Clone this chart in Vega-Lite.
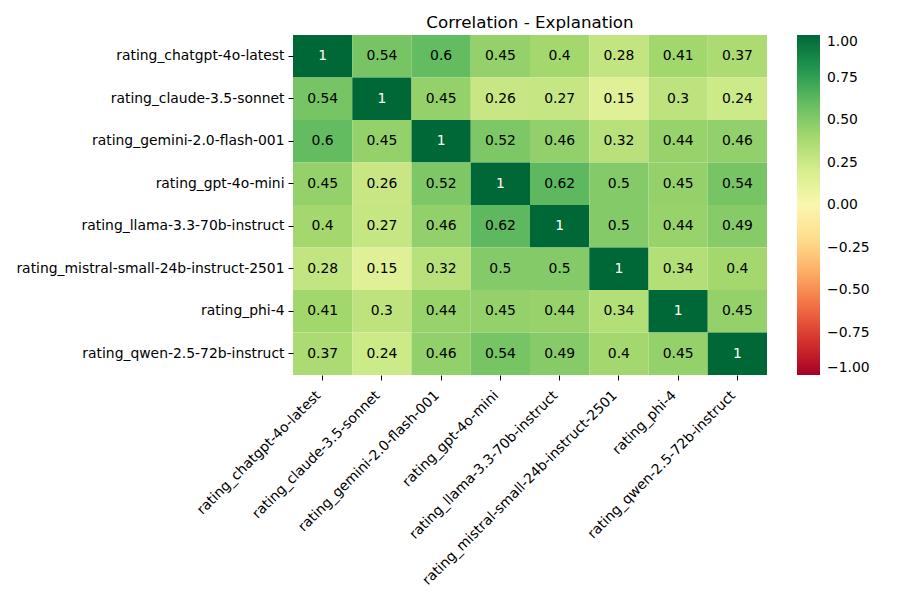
{
  "$schema": "https://vega.github.io/schema/vega-lite/v6.json",
  "width": 474,
  "height": 340,
  "autosize": {"type": "none"},
  "padding": {"left": 293, "top": 35, "right": 133, "bottom": 225},
  "config": {
    "font": "DejaVu Sans",
    "view": {"stroke": null},
    "axis": {"labelFont": "DejaVu Sans", "labelFontSize": 13.9, "labelColor": "black", "tickColor": "black", "tickSize": 5, "domain": false, "title": null, "labelPadding": 4, "labelLimit": 0},
    "legend": {"labelFont": "DejaVu Sans", "labelFontSize": 13.9, "labelColor": "black", "labelLimit": 0}
  },
  "title": {"text": "Correlation - Explanation", "fontSize": 16.7, "fontWeight": "normal", "font": "DejaVu Sans", "color": "black", "anchor": "middle", "offset": 3},
  "data": {"values": [
    {"x":"rating_chatgpt-4o-latest","y":"rating_chatgpt-4o-latest","v":1},
    {"x":"rating_claude-3.5-sonnet","y":"rating_chatgpt-4o-latest","v":0.54},
    {"x":"rating_gemini-2.0-flash-001","y":"rating_chatgpt-4o-latest","v":0.6},
    {"x":"rating_gpt-4o-mini","y":"rating_chatgpt-4o-latest","v":0.45},
    {"x":"rating_llama-3.3-70b-instruct","y":"rating_chatgpt-4o-latest","v":0.4},
    {"x":"rating_mistral-small-24b-instruct-2501","y":"rating_chatgpt-4o-latest","v":0.28},
    {"x":"rating_phi-4","y":"rating_chatgpt-4o-latest","v":0.41},
    {"x":"rating_qwen-2.5-72b-instruct","y":"rating_chatgpt-4o-latest","v":0.37},

    {"x":"rating_chatgpt-4o-latest","y":"rating_claude-3.5-sonnet","v":0.54},
    {"x":"rating_claude-3.5-sonnet","y":"rating_claude-3.5-sonnet","v":1},
    {"x":"rating_gemini-2.0-flash-001","y":"rating_claude-3.5-sonnet","v":0.45},
    {"x":"rating_gpt-4o-mini","y":"rating_claude-3.5-sonnet","v":0.26},
    {"x":"rating_llama-3.3-70b-instruct","y":"rating_claude-3.5-sonnet","v":0.27},
    {"x":"rating_mistral-small-24b-instruct-2501","y":"rating_claude-3.5-sonnet","v":0.15},
    {"x":"rating_phi-4","y":"rating_claude-3.5-sonnet","v":0.3},
    {"x":"rating_qwen-2.5-72b-instruct","y":"rating_claude-3.5-sonnet","v":0.24},

    {"x":"rating_chatgpt-4o-latest","y":"rating_gemini-2.0-flash-001","v":0.6},
    {"x":"rating_claude-3.5-sonnet","y":"rating_gemini-2.0-flash-001","v":0.45},
    {"x":"rating_gemini-2.0-flash-001","y":"rating_gemini-2.0-flash-001","v":1},
    {"x":"rating_gpt-4o-mini","y":"rating_gemini-2.0-flash-001","v":0.52},
    {"x":"rating_llama-3.3-70b-instruct","y":"rating_gemini-2.0-flash-001","v":0.46},
    {"x":"rating_mistral-small-24b-instruct-2501","y":"rating_gemini-2.0-flash-001","v":0.32},
    {"x":"rating_phi-4","y":"rating_gemini-2.0-flash-001","v":0.44},
    {"x":"rating_qwen-2.5-72b-instruct","y":"rating_gemini-2.0-flash-001","v":0.46},

    {"x":"rating_chatgpt-4o-latest","y":"rating_gpt-4o-mini","v":0.45},
    {"x":"rating_claude-3.5-sonnet","y":"rating_gpt-4o-mini","v":0.26},
    {"x":"rating_gemini-2.0-flash-001","y":"rating_gpt-4o-mini","v":0.52},
    {"x":"rating_gpt-4o-mini","y":"rating_gpt-4o-mini","v":1},
    {"x":"rating_llama-3.3-70b-instruct","y":"rating_gpt-4o-mini","v":0.62},
    {"x":"rating_mistral-small-24b-instruct-2501","y":"rating_gpt-4o-mini","v":0.5},
    {"x":"rating_phi-4","y":"rating_gpt-4o-mini","v":0.45},
    {"x":"rating_qwen-2.5-72b-instruct","y":"rating_gpt-4o-mini","v":0.54},

    {"x":"rating_chatgpt-4o-latest","y":"rating_llama-3.3-70b-instruct","v":0.4},
    {"x":"rating_claude-3.5-sonnet","y":"rating_llama-3.3-70b-instruct","v":0.27},
    {"x":"rating_gemini-2.0-flash-001","y":"rating_llama-3.3-70b-instruct","v":0.46},
    {"x":"rating_gpt-4o-mini","y":"rating_llama-3.3-70b-instruct","v":0.62},
    {"x":"rating_llama-3.3-70b-instruct","y":"rating_llama-3.3-70b-instruct","v":1},
    {"x":"rating_mistral-small-24b-instruct-2501","y":"rating_llama-3.3-70b-instruct","v":0.5},
    {"x":"rating_phi-4","y":"rating_llama-3.3-70b-instruct","v":0.44},
    {"x":"rating_qwen-2.5-72b-instruct","y":"rating_llama-3.3-70b-instruct","v":0.49},

    {"x":"rating_chatgpt-4o-latest","y":"rating_mistral-small-24b-instruct-2501","v":0.28},
    {"x":"rating_claude-3.5-sonnet","y":"rating_mistral-small-24b-instruct-2501","v":0.15},
    {"x":"rating_gemini-2.0-flash-001","y":"rating_mistral-small-24b-instruct-2501","v":0.32},
    {"x":"rating_gpt-4o-mini","y":"rating_mistral-small-24b-instruct-2501","v":0.5},
    {"x":"rating_llama-3.3-70b-instruct","y":"rating_mistral-small-24b-instruct-2501","v":0.5},
    {"x":"rating_mistral-small-24b-instruct-2501","y":"rating_mistral-small-24b-instruct-2501","v":1},
    {"x":"rating_phi-4","y":"rating_mistral-small-24b-instruct-2501","v":0.34},
    {"x":"rating_qwen-2.5-72b-instruct","y":"rating_mistral-small-24b-instruct-2501","v":0.4},

    {"x":"rating_chatgpt-4o-latest","y":"rating_phi-4","v":0.41},
    {"x":"rating_claude-3.5-sonnet","y":"rating_phi-4","v":0.3},
    {"x":"rating_gemini-2.0-flash-001","y":"rating_phi-4","v":0.44},
    {"x":"rating_gpt-4o-mini","y":"rating_phi-4","v":0.45},
    {"x":"rating_llama-3.3-70b-instruct","y":"rating_phi-4","v":0.44},
    {"x":"rating_mistral-small-24b-instruct-2501","y":"rating_phi-4","v":0.34},
    {"x":"rating_phi-4","y":"rating_phi-4","v":1},
    {"x":"rating_qwen-2.5-72b-instruct","y":"rating_phi-4","v":0.45},

    {"x":"rating_chatgpt-4o-latest","y":"rating_qwen-2.5-72b-instruct","v":0.37},
    {"x":"rating_claude-3.5-sonnet","y":"rating_qwen-2.5-72b-instruct","v":0.24},
    {"x":"rating_gemini-2.0-flash-001","y":"rating_qwen-2.5-72b-instruct","v":0.46},
    {"x":"rating_gpt-4o-mini","y":"rating_qwen-2.5-72b-instruct","v":0.54},
    {"x":"rating_llama-3.3-70b-instruct","y":"rating_qwen-2.5-72b-instruct","v":0.49},
    {"x":"rating_mistral-small-24b-instruct-2501","y":"rating_qwen-2.5-72b-instruct","v":0.4},
    {"x":"rating_phi-4","y":"rating_qwen-2.5-72b-instruct","v":0.45},
    {"x":"rating_qwen-2.5-72b-instruct","y":"rating_qwen-2.5-72b-instruct","v":1}
  ]},
  "encoding": {
    "x": {"field": "x", "type": "nominal", "sort": null, "axis": {"labelAngle": -45, "labelAlign": "right", "labelBaseline": "top", "ticks": true, "labelOffset": -9, "labelPadding": 8}},
    "y": {"field": "y", "type": "nominal", "sort": null, "axis": {"ticks": true}}
  },
  "layer": [
    {
      "mark": {"type": "rect"},
      "encoding": {
        "color": {"field": "v", "type": "quantitative",
          "scale": {"scheme": "redyellowgreen", "domain": [-1, 1]},
          "legend": {"title": null, "orient": "right", "offset": 30, "gradientLength": 340, "gradientThickness": 23, "values": [-1, -0.75, -0.5, -0.25, 0, 0.25, 0.5, 0.75, 1], "format": ".2f", "labelOffset": 7}
        }
      }
    },
    {
      "mark": {"type": "text", "fontSize": 13.9, "font": "DejaVu Sans"},
      "encoding": {
        "text": {"field": "v", "type": "quantitative"},
        "color": {"condition": {"test": "datum.v >= 0.9", "value": "white"}, "value": "black"}
      }
    }
  ]
}
